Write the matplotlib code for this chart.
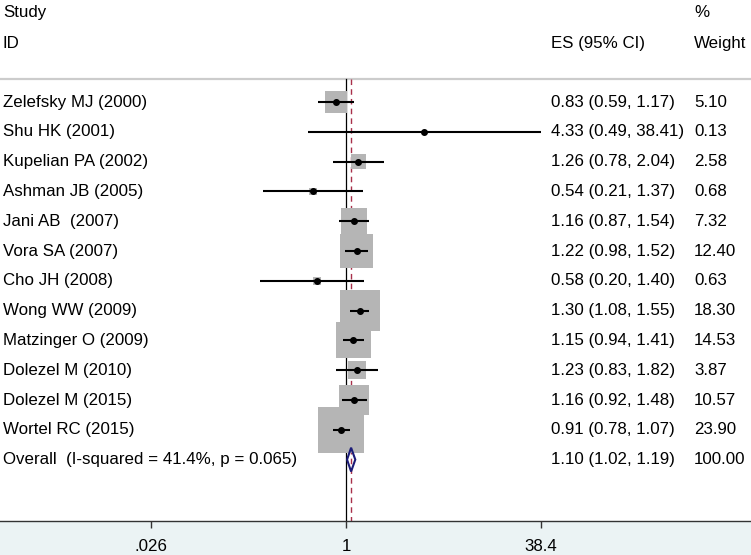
import matplotlib.pyplot as plt
import numpy as np

studies = [
    "Zelefsky MJ (2000)",
    "Shu HK (2001)",
    "Kupelian PA (2002)",
    "Ashman JB (2005)",
    "Jani AB  (2007)",
    "Vora SA (2007)",
    "Cho JH (2008)",
    "Wong WW (2009)",
    "Matzinger O (2009)",
    "Dolezel M (2010)",
    "Dolezel M (2015)",
    "Wortel RC (2015)",
]
es = [0.83, 4.33, 1.26, 0.54, 1.16, 1.22, 0.58, 1.30, 1.15, 1.23, 1.16, 0.91]
lo = [0.59, 0.49, 0.78, 0.21, 0.87, 0.98, 0.20, 1.08, 0.94, 0.83, 0.92, 0.78]
hi = [1.17, 38.41, 2.04, 1.37, 1.54, 1.52, 1.40, 1.55, 1.41, 1.82, 1.48, 1.07]
weight = [5.10, 0.13, 2.58, 0.68, 7.32, 12.40, 0.63, 18.30, 14.53, 3.87, 10.57, 23.90]

overall_label = "Overall  (I-squared = 41.4%, p = 0.065)"
overall_es, overall_lo, overall_hi = 1.10, 1.02, 1.19

xticks = [0.026, 1, 38.4]
xticklabels = [".026", "1", "38.4"]

plt.rcParams["font.family"] = ["Liberation Sans", "DejaVu Sans"]
fs = 12.2

fig = plt.figure(figsize=(7.51, 5.55), dpi=100)
fig.patch.set_facecolor("#ebf3f4")
ax = fig.add_axes([0, 34 / 555, 1, 521 / 555])
ax.set_facecolor("white")

px_per_ln = 53.44
ax.set_xscale("log")
ax.set_xlim(np.exp(-346 / px_per_ln), np.exp(405 / px_per_ln))
ax.set_ylim(14.06, -3.423)

rows = np.arange(len(studies))
overall_row = len(studies)
top = -0.772

# reference lines
ax.plot([1, 1], [top, 14.06], color="black", lw=0.9, zorder=2)
ax.plot([overall_es, overall_es], [top, 14.06], color="#a8304a", lw=1.0,
        ls=(0, (4, 3)), zorder=2)
ax.axhline(top, color="#cccccc", lw=1.6, zorder=1)

# study boxes, CIs and points
ax.scatter(es, rows, s=np.array(weight) * 46, marker="s", color="#b5b5b5",
           edgecolors="none", zorder=3)
ax.hlines(rows, lo, hi, color="black", lw=1.5, zorder=4)
ax.plot(es, rows, "o", color="black", ms=4.0, zorder=5)

# overall diamond
h = 0.4
ax.fill([overall_lo, overall_es, overall_hi, overall_es],
        [overall_row, overall_row - h, overall_row, overall_row + h],
        facecolor="none", edgecolor="#1c1c78", lw=1.5, zorder=6)

# text columns
tr = ax.get_yaxis_transform()
x_lab, x_es, x_w = 3 / 751, 551 / 751, 694 / 751
for r, name, e, l, u, w in zip(rows, studies, es, lo, hi, weight):
    ax.text(x_lab, r, name, transform=tr, fontsize=fs, va="center")
    ax.text(x_es, r, f"{e:.2f} ({l:.2f}, {u:.2f})", transform=tr, fontsize=fs, va="center")
    ax.text(x_w, r, f"{w:.2f}", transform=tr, fontsize=fs, va="center")
ax.text(x_lab, overall_row, overall_label, transform=tr, fontsize=fs, va="center")
ax.text(x_es, overall_row, f"{overall_es:.2f} ({overall_lo:.2f}, {overall_hi:.2f})",
        transform=tr, fontsize=fs, va="center")
ax.text(x_w, overall_row, "100.00", transform=tr, fontsize=fs, va="center")

ax.text(x_lab, -2.99, "Study", transform=tr, fontsize=fs, va="center")
ax.text(x_lab, -1.98, "ID", transform=tr, fontsize=fs, va="center")
ax.text(x_es, -1.98, "ES (95% CI)", transform=tr, fontsize=fs, va="center")
ax.text(x_w, -2.99, "%", transform=tr, fontsize=fs, va="center")
ax.text(x_w, -1.98, "Weight", transform=tr, fontsize=fs, va="center")

# axis
for side in ["top", "left", "right"]:
    ax.spines[side].set_visible(False)
ax.spines["bottom"].set_color("#333333")
ax.spines["bottom"].set_linewidth(1.0)
ax.set_yticks([])
ax.set_xticks(xticks)
ax.set_xticklabels(xticklabels, fontsize=fs)
ax.xaxis.set_minor_locator(plt.NullLocator())
ax.tick_params(axis="x", direction="out", length=5, width=1, color="#333333", pad=8)

fig.savefig("out.png", dpi=100, facecolor=fig.get_facecolor())
